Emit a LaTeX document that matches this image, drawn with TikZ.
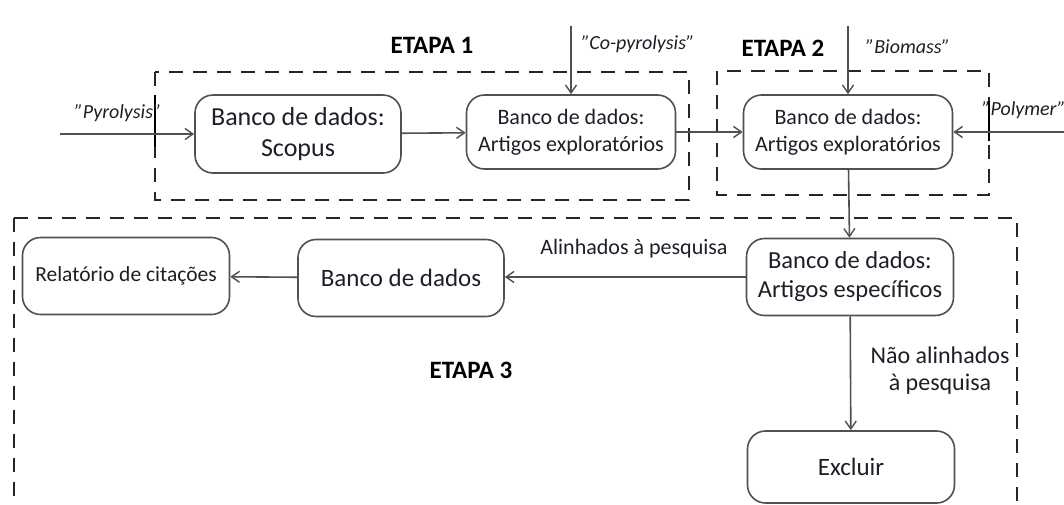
\documentclass[tikz,border=0pt]{standalone}
\usepackage{fontspec}
\setmainfont{Carlito}
\usetikzlibrary{arrows.meta}
\definecolor{txt}{HTML}{1E1E28}
\definecolor{ln}{HTML}{505050}
\newcommand{\sq}{\symbol{34}}
\tikzset{
  box/.style={draw=ln, line width=1.6pt, rounded corners=18pt, align=center, text=txt, inner sep=0pt},
  conn/.style={draw=ln, line width=1.6pt, -{Straight Barb[length=8pt,width=11pt,line width=1.4pt]}},
  zone/.style={draw=black!85, line width=1.8pt, dash pattern=on 14pt off 10pt},
  bar/.style={draw=black, line width=1.8pt},
  stage/.style={font=\fontsize{25}{30}\selectfont\bfseries, text=black},
  term/.style={font=\fontsize{20}{24}\selectfont\itshape, text=txt, inner sep=0pt},
  lab/.style={text=txt, align=center, inner sep=0pt},
}
\begin{document}
\begin{tikzpicture}[x=1pt,y=-1pt]
\useasboundingbox (0,0) rectangle (1064,504);
% zones
\draw[zone] (155,72) rectangle (689,200);
\draw[zone] (717,71) rectangle (989,195);
\draw[zone] (14,218) -- (1017,218) -- (1017,520);
\draw[zone] (14,218) -- (14,520);
\draw[bar] (155,95) -- (155,147);
\draw[bar] (989,101) -- (989,141);
% stage labels
\node[stage] (e1) at (432,45) {ETAPA 1};
\node[stage] (e2) at (783,48) {ETAPA 2};
\node[stage] (e3) at (471,370) {ETAPA 3};
% boxes
\node[box, minimum width=206pt, minimum height=78pt, font=\fontsize{26}{31}\selectfont] (scopus) at (298,134) {Banco de dados:\\Scopus};
\node[box, minimum width=209pt, minimum height=74pt, font=\fontsize{22}{27}\selectfont] (exp1) at (571,132) {Banco de dados:\\Artigos exploratórios};
\node[box, minimum width=209pt, minimum height=74pt, font=\fontsize{22}{27}\selectfont] (exp2) at (848,132) {Banco de dados:\\Artigos exploratórios};
\node[box, minimum width=207pt, minimum height=77pt, font=\fontsize{24.5}{29}\selectfont] (spec) at (850,277) {Banco de dados:\\Artigos específicos};
\node[box, minimum width=206pt, minimum height=77pt, font=\fontsize{25}{30}\selectfont] (banco) at (401,278) {Banco de dados};
\node[box, minimum width=207pt, minimum height=77pt, font=\fontsize{21.5}{26}\selectfont] (relat) at (126,276) {Relatório de citações};
\node[box, minimum width=207pt, minimum height=72pt, font=\fontsize{25}{30}\selectfont] (excl) at (851,467) {Excluir};
% free ends
\coordinate (pyro) at (60,134);
\coordinate (copy) at (571,26);
\coordinate (bio) at (848,26);
\coordinate (poly) at (1064,132);
% term labels
\node[term] (tpyro) at (118,113) {\sq Pyrolysis\sq};
\node[term] (tcopy) at (638,44) {\sq Co-pyrolysis\sq};
\node[term] (tbio) at (908,47) {\sq Biomass\sq};
\node[term, anchor=west] (tpoly) at (982,110) {\sq Polymer\sq};
% connectors
\draw[conn] (pyro) -- (scopus.west);
\draw[conn] (scopus) -- (exp1);
\draw[conn] (copy) -- (exp1.north);
\draw[conn] (exp1) -- (exp2);
\draw[conn] (bio) -- (exp2.north);
\draw[conn] (poly) -- (exp2.east);
\draw[conn] (exp2) -- (spec);
\draw[conn] (spec.west) -- (banco.east |- spec.west);
\draw[conn] (banco) -- (relat);
\draw[conn] (spec) -- (excl);
\node[lab, font=\fontsize{22}{26}\selectfont] (lal) at (634,249) {Alinhados à pesquisa};
\node[lab, font=\fontsize{24}{27}\selectfont] (lnal) at (940,371) {Não alinhados\\à pesquisa};
\end{tikzpicture}
\end{document}
